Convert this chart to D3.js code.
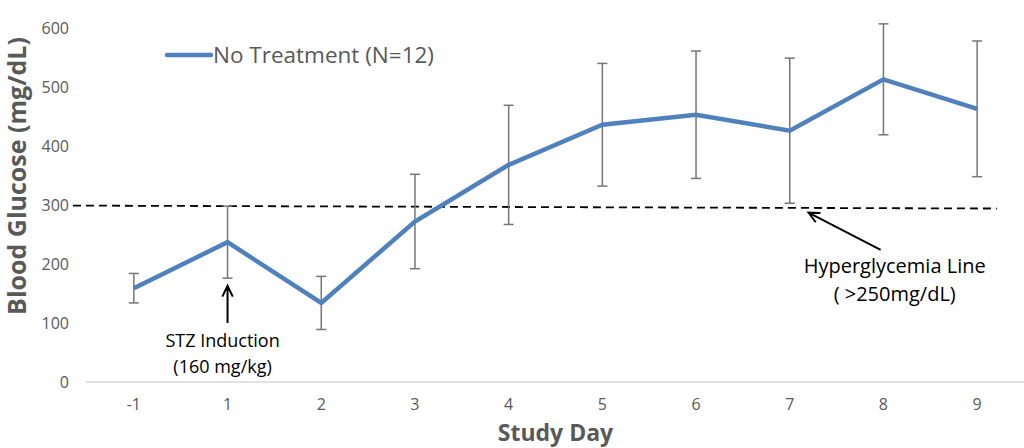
<!DOCTYPE html>
<html>
<head>
<meta charset="utf-8">
<script src="https://cdn.jsdelivr.net/npm/d3@7"></script>
<style>
  body { margin: 0; background: #fff; }
  svg text { font-family: "Open Sans", "Liberation Sans", sans-serif; }
</style>
</head>
<body>
<div id="chart"></div>
<script>
// study days and blood glucose (mg/dL), mean +/- error
const days = ["-1", "1", "2", "3", "4", "5", "6", "7", "8", "9"];
const means = [159, 237, 134, 272, 368, 436, 453, 426, 513, 463];
const errors = [25, 61, 45, 80, 101, 104, 108, 123, 94, 115];
const yTicks = [0, 100, 200, 300, 400, 500, 600];

// hyperglycemia threshold line, drawn in (day index, glucose) units
const hyperLine = [[-0.65, 299], [9.21, 294]];

const width = 1024, height = 448;
const margin = { top: 28, right: 0, bottom: 66, left: 87 };

const svg = d3.select("#chart").append("svg")
    .attr("width", width)
    .attr("height", height);

const x = d3.scalePoint()
    .domain(days)
    .range([margin.left, width - margin.right])
    .padding(0.5);

// fractional day index -> pixel, for annotations
const xi = d3.scaleLinear()
    .domain([0, days.length - 1])
    .range([x(days[0]), x(days[days.length - 1])]);

const y = d3.scaleLinear()
    .domain([0, 600])
    .range([height - margin.bottom, margin.top]);

const grey = "#595959";

// x axis line
svg.append("line")
    .attr("x1", margin.left - 1)
    .attr("x2", width)
    .attr("y1", y(0))
    .attr("y2", y(0))
    .attr("stroke", "#d9d9d9")
    .attr("stroke-width", 1.5);

// x tick labels
svg.append("g")
    .selectAll("text")
    .data(days)
    .enter()
    .append("text")
    .attr("x", d => x(d))
    .attr("y", y(0) + 28)
    .attr("text-anchor", "middle")
    .attr("font-size", 16)
    .attr("fill", grey)
    .text(d => d);

// y tick labels
svg.append("g")
    .selectAll("text")
    .data(yTicks)
    .enter()
    .append("text")
    .attr("x", 69)
    .attr("y", d => y(d))
    .attr("dy", "0.36em")
    .attr("text-anchor", "end")
    .attr("font-size", 16)
    .attr("fill", grey)
    .text(d => d);

// axis titles
svg.append("text")
    .attr("transform", `translate(26,${y(300) - 29}) rotate(-90)`)
    .attr("text-anchor", "middle")
    .attr("font-size", 25)
    .attr("font-weight", "bold")
    .attr("fill", grey)
    .text("Blood Glucose (mg/dL)");

svg.append("text")
    .attr("x", xi(4.5))
    .attr("y", 441)
    .attr("text-anchor", "middle")
    .attr("font-size", 23)
    .attr("font-weight", "bold")
    .attr("fill", grey)
    .text("Study Day");

// hyperglycemia dashed line
svg.append("line")
    .attr("x1", xi(hyperLine[0][0]))
    .attr("y1", y(hyperLine[0][1]))
    .attr("x2", xi(hyperLine[1][0]))
    .attr("y2", y(hyperLine[1][1]))
    .attr("stroke", "#000")
    .attr("stroke-width", 1.8)
    .attr("stroke-dasharray", "8,5");

// error bars
const bars = svg.append("g")
    .attr("stroke", "#767676")
    .attr("stroke-width", 1.5);

days.forEach((d, i) => {
    const cx = x(d);
    const top = y(means[i] + errors[i]);
    const bot = y(means[i] - errors[i]);
    bars.append("line").attr("x1", cx).attr("x2", cx).attr("y1", top).attr("y2", bot);
    bars.append("line").attr("x1", cx - 5).attr("x2", cx + 5).attr("y1", top).attr("y2", top);
    bars.append("line").attr("x1", cx - 5).attr("x2", cx + 5).attr("y1", bot).attr("y2", bot);
});

// mean line
const line = d3.line()
    .x((d, i) => x(days[i]))
    .y(d => y(d));

svg.append("path")
    .datum(means)
    .attr("fill", "none")
    .attr("stroke", "#4f81bd")
    .attr("stroke-width", 4.5)
    .attr("stroke-linejoin", "miter")
    .attr("d", line);

// legend
svg.append("line")
    .attr("x1", 167)
    .attr("x2", 211)
    .attr("y1", 55)
    .attr("y2", 55)
    .attr("stroke", "#4f81bd")
    .attr("stroke-width", 4.5)
    .attr("stroke-linecap", "round");

svg.append("text")
    .attr("x", 213)
    .attr("y", 55)
    .attr("dy", "0.36em")
    .attr("font-size", 22.5)
    .attr("fill", grey)
    .text("No Treatment (N=12)");

// arrows with open heads
function arrow(x1, y1, x2, y2) {
    const a = Math.atan2(y2 - y1, x2 - x1);
    const len = 12, spread = 0.45;
    const p = d3.path();
    p.moveTo(x1, y1);
    p.lineTo(x2, y2);
    p.moveTo(x2 - len * Math.cos(a - spread), y2 - len * Math.sin(a - spread));
    p.lineTo(x2, y2);
    p.lineTo(x2 - len * Math.cos(a + spread), y2 - len * Math.sin(a + spread));
    svg.append("path")
        .attr("d", p.toString())
        .attr("fill", "none")
        .attr("stroke", "#000")
        .attr("stroke-width", 2);
}

// STZ induction annotation (day 1)
arrow(xi(1), y(100), xi(1), y(163));
svg.append("text")
    .attr("text-anchor", "middle")
    .attr("font-size", 18)
    .attr("fill", "#000")
    .selectAll("tspan")
    .data(["STZ Induction", "(160 mg/kg)"])
    .enter()
    .append("tspan")
    .attr("x", xi(1) - 5)
    .attr("y", (d, i) => 347 + i * 26)
    .text(d => d);

// hyperglycemia annotation
arrow(xi(7.97), y(224), xi(7.2), y(287));
svg.append("text")
    .attr("text-anchor", "middle")
    .attr("font-size", 20)
    .attr("fill", "#000")
    .selectAll("tspan")
    .data(["Hyperglycemia Line", "( >250mg/dL)"])
    .enter()
    .append("tspan")
    .attr("x", xi(8.12))
    .attr("y", (d, i) => 273 + i * 28)
    .text(d => d);
</script>
</body>
</html>
